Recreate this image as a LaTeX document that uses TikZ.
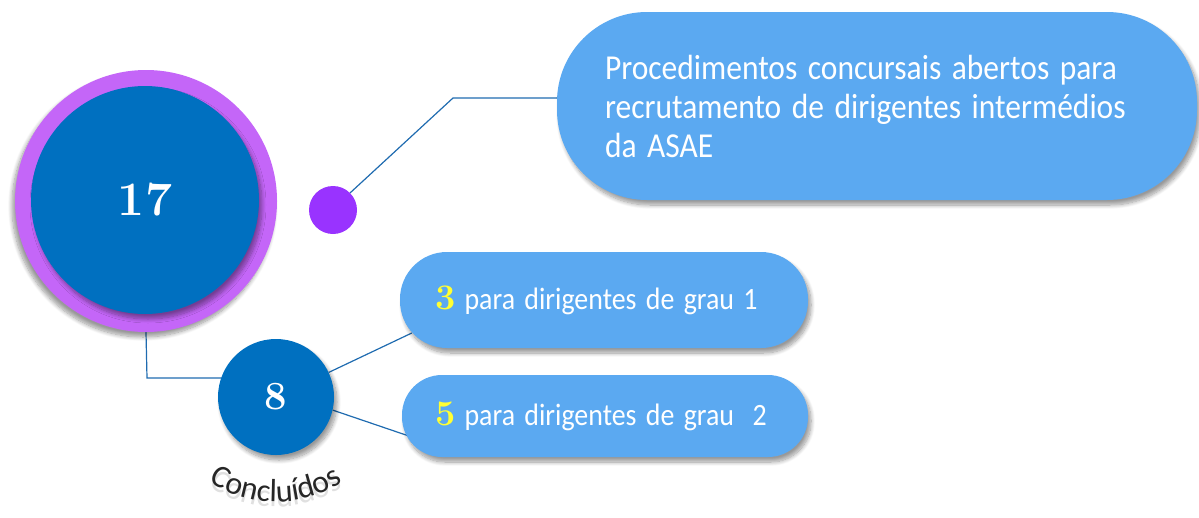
\documentclass[tikz,border=0pt]{standalone}
\usepackage{fontspec}
\usepackage{graphicx}
\newfontfamily\carlito{Carlito}
\newcommand\narrow[1]{\scalebox{0.9}[1]{#1}}
\usetikzlibrary{shadows,shadows.blur,decorations.text,backgrounds}
\definecolor{ringpurple}{HTML}{C466F8}
\definecolor{coreblue}{HTML}{0070C0}
\definecolor{dotpurple}{HTML}{9933FF}
\definecolor{boxblue}{HTML}{5BA9F1}
\definecolor{linkblue}{HTML}{1F6BB0}
\definecolor{numyellow}{HTML}{FFFF33}
\begin{document}
\begin{tikzpicture}[x=1pt,y=1pt,
  softshadow/.style={blur shadow={shadow xshift=#1, shadow yshift=-5pt, shadow blur steps=10, shadow blur radius=4pt, shadow opacity=40}},
  softshadow/.default=3pt,
  pill/.style={draw=none, fill=boxblue, text=white, align=left, softshadow},
  link/.style={draw=linkblue, line width=1.2pt},
  num/.style={text=white, font=\bfseries}]
\useasboundingbox (0,0) rectangle (1199,-517);
% big circle
\node[circle, fill=ringpurple, minimum size=262pt, inner sep=0, softshadow=-3pt] (big) at (146,-201) {};
\node[circle, fill=coreblue, minimum size=228pt, inner sep=0, num,
  font=\fontsize{48}{48}\selectfont\bfseries, softshadow] (bigin) at (145,-200) {17};
% small dot
\node[circle, fill=dotpurple, minimum size=48pt, inner sep=0] (dot) at (333,-210) {};
% top box
\node[pill, rounded corners=90pt, minimum width=640pt, minimum height=188pt,
  text width=544pt, inner xsep=48pt, font=\carlito\fontsize{35}{39}\selectfont]
  (top) at (877,-106) {\narrow{Procedimentos concursais abertos para}\\\narrow{recrutamento de dirigentes intermédios}\\\narrow{da ASAE}};
% circle 8
\node[circle, fill=coreblue, minimum size=116pt, inner sep=0, num,
  font=\fontsize{40}{40}\selectfont\bfseries, softshadow] (eight) at (276,-397) {8};
% grade boxes
\node[pill, rounded corners=47pt, minimum width=408pt, minimum height=96pt,
  text width=338pt, inner xsep=35pt, font=\carlito\fontsize{31}{36}\selectfont]
  (b2) at (604,-300) {\mbox{{\color{numyellow}\fontsize{36}{36}\selectfont\rmfamily\bfseries 3}\narrow{ para dirigentes de grau 1}}};
\node[pill, rounded corners=40pt, minimum width=406pt, minimum height=82pt,
  text width=340pt, inner xsep=33pt, font=\carlito\fontsize{31}{36}\selectfont]
  (b3) at (605,-416) {\mbox{{\color{numyellow}\fontsize{36}{36}\selectfont\rmfamily\bfseries 5}\narrow{ para dirigentes de grau\ \ 2}}};
% connectors
\coordinate (k1) at (453,-98);
\coordinate (k2) at (147,-378);
\coordinate (cc) at (276,-383);
\begin{pgfonlayer}{background}
\draw[link] (dot.45) -- (k1) -- (k1 -| top.west);
\draw[link] (big.south) -- (k2) -- (k2 -| eight.center);
\draw[link] (eight.25) -- ([xshift=12pt,yshift=-33pt]b2.west);
\draw[link] (eight.-13) -- ([xshift=10pt,yshift=-21pt]b3.west);
\end{pgfonlayer}
% curved label with faint shadow
\path[decorate, decoration={text along path, text align=center, text color=black!12,
  text={|\carlito\fontsize{32}{32}\selectfont|Concluídos}}]
  ([shift={(235:119)},yshift=-5pt]cc) arc[start angle=235, end angle=305, radius=119];
\path[decorate, decoration={text along path, text align=center, text color=black!85,
  text={|\carlito\fontsize{32}{32}\selectfont|Concluídos}}]
  ([shift={(235:119)}]cc) arc[start angle=235, end angle=305, radius=119];
\end{tikzpicture}
\end{document}
